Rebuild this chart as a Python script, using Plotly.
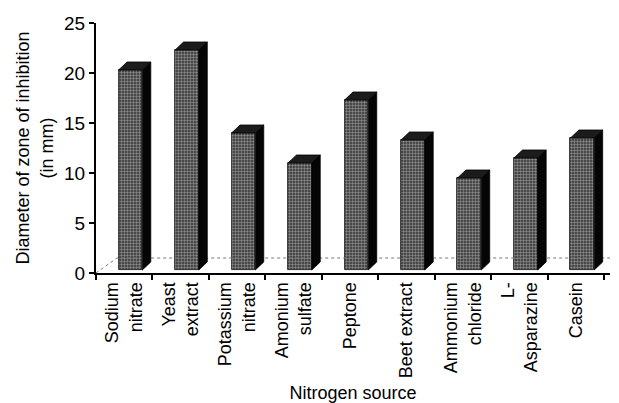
import plotly.graph_objects as go

# Nitrogen sources tested and the resulting inhibition zone diameters (mm)
sources = ["Sodium<br>nitrate", "Yeast<br>extract", "Potassium<br>nitrate",
           "Amonium<br>sulfate", "Peptone", "Beet extract",
           "Ammonium<br>chloride", "L-<br>Asparazine", "Casein"]
diameters = [20.0, 22.0, 13.7, 10.7, 17.0, 13.0, 9.2, 11.2, 13.2]
y_ticks = [0, 5, 10, 15, 20, 25]

# pseudo-3D geometry, in axis units
FRONT_OFF = -0.10     # front face left edge relative to category centre
FRONT_W = 0.42        # front face width
SIDE_DX = 0.15        # depth of the bar (x direction)
SIDE_DY = 0.8         # depth of the bar (y direction)
BASE = 0.3            # bars stand slightly inside the floor
FLOOR_DX = 0.37
FLOOR_DY = 1.5
X_MIN, X_MAX = -0.5, 8.6

FONT = "Liberation Sans, Arial, sans-serif"

fig = go.Figure()

# floor: dotted back edge and the left diagonal
fig.add_trace(go.Scatter(
    x=[X_MIN, X_MIN + FLOOR_DX, X_MAX + FLOOR_DX], y=[0, FLOOR_DY, FLOOR_DY],
    mode="lines", line=dict(color="#777777", width=1, dash="dot"),
    xaxis="x2", hoverinfo="skip", showlegend=False))

# front faces (textured)
fig.add_trace(go.Bar(
    x=sources, y=diameters, base=BASE, offset=FRONT_OFF, width=FRONT_W,
    marker=dict(color="#444444",
                line=dict(color="#111111", width=0.8),
                pattern=dict(shape=".", fgcolor="#e0e0e0", bgcolor="#333333",
                             size=3, solidity=0.5)),
    hoverinfo="skip", showlegend=False))

# side and top faces built from the same values
side_x, side_y, top_x, top_y = [], [], [], []
for i, v in enumerate(diameters):
    xl = i + FRONT_OFF
    xr = xl + FRONT_W
    yt = BASE + v
    side_x += [xr, xr, xr + SIDE_DX, xr + SIDE_DX, xr, None]
    side_y += [BASE, yt, yt + SIDE_DY, BASE + SIDE_DY, BASE, None]
    top_x += [xl, xr, xr + SIDE_DX, xl + SIDE_DX, xl, None]
    top_y += [yt, yt, yt + SIDE_DY, yt + SIDE_DY, yt, None]

fig.add_trace(go.Scatter(
    x=side_x, y=side_y, mode="lines", fill="toself", fillcolor="#050505",
    line=dict(color="#000000", width=0.8), xaxis="x2",
    hoverinfo="skip", showlegend=False))
fig.add_trace(go.Scatter(
    x=top_x, y=top_y, mode="lines", fill="toself", fillcolor="#1c1c1c",
    line=dict(color="#000000", width=0.8), xaxis="x2",
    hoverinfo="skip", showlegend=False))

fig.update_layout(
    width=619, height=403,
    margin=dict(l=96, r=9, t=23, b=130),
    paper_bgcolor="white", plot_bgcolor="white",
    font=dict(family=FONT, size=18, color="black"),
    bargap=0,
    xaxis=dict(
        type="category", categoryorder="array", categoryarray=sources,
        range=[X_MIN, X_MAX], tickson="boundaries", automargin=False,
        ticks="outside", ticklen=5, tickwidth=1.5, tickcolor="black",
        tickangle=-90, showline=True, linecolor="black", linewidth=2,
        showgrid=False, zeroline=False,
        tickfont=dict(family=FONT, size=18),
        title=dict(text="Nitrogen source", font=dict(family=FONT, size=18),
                   standoff=10)),
    xaxis2=dict(range=[X_MIN, X_MAX], overlaying="x", visible=False),
    yaxis=dict(
        range=[0, 25], tickvals=y_ticks, ticks="outside", ticklen=5,
        tickwidth=1.5, tickcolor="black", showline=True, linecolor="black",
        linewidth=2, showgrid=False, zeroline=False, automargin=False,
        tickfont=dict(family=FONT, size=19),
        title=dict(text="Diameter of zone of inhibition<br>(in mm)",
                   font=dict(family=FONT, size=18), standoff=6)),
)

fig.write_html("out.html")
